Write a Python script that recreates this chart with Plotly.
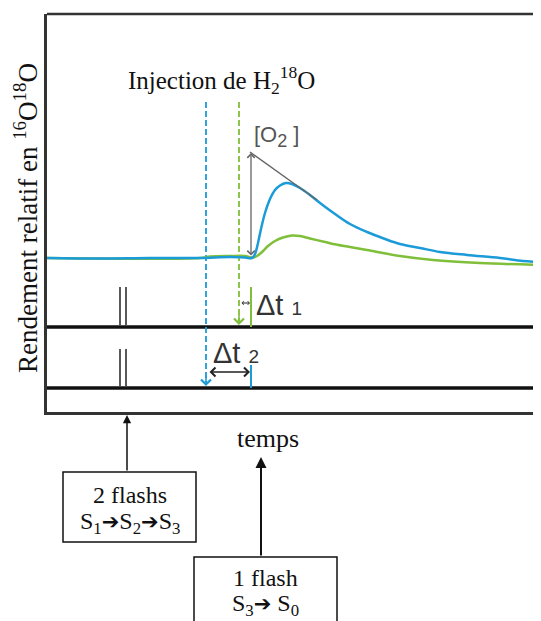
import plotly.graph_objects as go

# ---- data (time in arbitrary units, signal in arbitrary units) ----
blue_t = [0, 53, 103, 153, 168, 183, 198, 205, 208, 211, 214, 218, 223, 228, 233, 239, 245, 253, 263, 273, 288, 303, 320, 338, 353, 373, 393, 420, 453, 476, 494]
blue_y = [154, 153.5, 154, 154, 154.5, 155, 154.5, 154, 158, 169, 183, 199, 213, 222, 226.5, 229, 228, 224, 217, 209, 198, 188, 180, 173, 168, 164, 160, 157, 154, 151, 150]

green_t = [0, 153, 163, 183, 198, 206, 210, 215, 221, 228, 236, 245, 253, 263, 278, 286, 303, 320, 353, 386, 433, 494]
green_y = [154, 154, 155.5, 156, 156, 154.5, 156, 160, 166, 171, 174.5, 176.5, 176, 173.5, 170, 168, 165, 162, 156, 152, 149, 147]

flash2_t = [73, 79]          # two flashes (S1->S2->S3)
flash_t = 204                # single flash (S3->S0)
inj_blue_t = 159             # injection time (blue)
inj_green_t = 192            # injection time (green)
track_y = [85, 24]           # flash-trace baselines
peak_tangent_t = [203, 270]
peak_tangent_y = [260, 212]
o2_arrow_y = [260, 154]

BLUE = "#1b9bd8"
GREEN = "#7fbf3a"
SERIF = "Liberation Serif"
SANS = "Liberation Sans"

fig = go.Figure()

# flash trace baselines
for ty in track_y:
    fig.add_trace(go.Scatter(x=[0, 494], y=[ty, ty], mode="lines",
                             line=dict(color="#111", width=3.5), hoverinfo="skip"))
# flash marks
for ft in flash2_t:
    fig.add_trace(go.Scatter(x=[ft, ft], y=[track_y[0] + 2, track_y[0] + 40], mode="lines",
                             line=dict(color="#222", width=1.5), hoverinfo="skip"))
    fig.add_trace(go.Scatter(x=[ft, ft], y=[track_y[1] + 2, track_y[1] + 39], mode="lines",
                             line=dict(color="#222", width=1.5), hoverinfo="skip"))
# single-flash marks
fig.add_trace(go.Scatter(x=[flash_t, flash_t], y=[track_y[0], track_y[0] + 40], mode="lines",
                         line=dict(color=GREEN, width=2), hoverinfo="skip"))
fig.add_trace(go.Scatter(x=[flash_t, flash_t], y=[track_y[1], track_y[1] + 23], mode="lines",
                         line=dict(color=BLUE, width=2), hoverinfo="skip"))

# injection dashed lines
fig.add_trace(go.Scatter(x=[inj_blue_t, inj_blue_t], y=[310, track_y[1] + 6], mode="lines",
                         line=dict(color=BLUE, width=1.8, dash="6px,3px"), hoverinfo="skip"))
fig.add_trace(go.Scatter(x=[inj_green_t, inj_green_t], y=[310, track_y[0] + 6], mode="lines",
                         line=dict(color=GREEN, width=1.8, dash="6px,3px"), hoverinfo="skip"))

# curves
fig.add_trace(go.Scatter(x=green_t, y=green_y, mode="lines",
                         line=dict(color=GREEN, width=2.5, shape="spline"), hoverinfo="skip"))
fig.add_trace(go.Scatter(x=blue_t, y=blue_y, mode="lines",
                         line=dict(color=BLUE, width=2.5, shape="spline"), hoverinfo="skip"))

# tangent line
fig.add_trace(go.Scatter(x=peak_tangent_t, y=peak_tangent_y, mode="lines",
                         line=dict(color="#666", width=1.4), hoverinfo="skip"))

# figure area starts 8 px right/down of window origin (page body margin)
PLOT_H = 398.0
def py(win_y):
    """paper y for a window pixel row"""
    return (412 - win_y) / PLOT_H

ann = []
# arrowheads for dashed lines
ann.append(dict(x=inj_blue_t, y=track_y[1] + 2, ax=inj_blue_t, ay=track_y[1] + 14, xref="x", yref="y",
                axref="x", ayref="y", showarrow=True, arrowhead=4, arrowsize=1.2, arrowwidth=1.6,
                arrowcolor=BLUE, text=""))
ann.append(dict(x=inj_green_t, y=track_y[0] + 2, ax=inj_green_t, ay=track_y[0] + 14, xref="x", yref="y",
                axref="x", ayref="y", showarrow=True, arrowhead=4, arrowsize=1.2, arrowwidth=1.6,
                arrowcolor=GREEN, text=""))
# [O2] double arrow
ann.append(dict(x=peak_tangent_t[0] + 1, y=o2_arrow_y[0] - 1, ax=peak_tangent_t[0] + 1, ay=o2_arrow_y[1] + 1,
                xref="x", yref="y", axref="x", ayref="y", showarrow=True, arrowhead=4, startarrowhead=4,
                arrowside="end+start", arrowsize=1.1, arrowwidth=1.3, arrowcolor="#666", text=""))
# delta t arrows
ann.append(dict(x=203, y=109, ax=193, ay=109, xref="x", yref="y", axref="x", ayref="y",
                showarrow=True, arrowhead=4, startarrowhead=4, arrowside="end+start",
                arrowsize=0.7, arrowwidth=1, arrowcolor="#222", text=""))
ann.append(dict(x=203, y=40, ax=161, ay=40, xref="x", yref="y", axref="x", ayref="y",
                showarrow=True, arrowhead=4, startarrowhead=4, arrowside="end+start",
                arrowsize=1.1, arrowwidth=1.6, arrowcolor="#222", text=""))

# texts
ann.append(dict(x=207, y=107, xref="x", yref="y", xanchor="left", yanchor="middle", showarrow=False,
                text="Δt <span style='font-size:19px'>1</span>", font=dict(family=SANS, size=29, color="#333")))
ann.append(dict(x=164, y=59, xref="x", yref="y", xanchor="left", yanchor="middle", showarrow=False,
                text="Δt <span style='font-size:19px'>2</span>", font=dict(family=SANS, size=29, color="#333")))
ann.append(dict(x=205, y=276, xref="x", yref="y", xanchor="left", yanchor="middle", showarrow=False,
                text="[O<sub><span style='font-size:18px'>2</span></sub> ]",
                font=dict(family=SANS, size=22, color="#555")))
ann.append(dict(x=174, y=332, xref="x", yref="y", xanchor="center", yanchor="middle", showarrow=False,
                text="Injection de H<sub>2</sub><sup>18</sup>O", font=dict(family=SERIF, size=25, color="#111")))
ann.append(dict(x=-21 / 494, y=py(218), xref="paper", yref="paper", xanchor="center",
                yanchor="middle", textangle=-90, showarrow=False,
                text="Rendement relatif en <sup>16</sup>O<sup>18</sup>O",
                font=dict(family=SERIF, size=27, color="#111")))
ann.append(dict(x=221, y=py(438), xref="x", yref="paper", xanchor="center", yanchor="middle",
                showarrow=False, text="temps", font=dict(family=SERIF, size=26, color="#111")))
# box arrows
ann.append(dict(x=80, y=py(415), xref="x", yref="paper", ax=0, ay=57, showarrow=True,
                arrowhead=2, arrowsize=1.1, arrowwidth=1.5, arrowcolor="#111", text=""))
ann.append(dict(x=214, y=py(457), xref="x", yref="paper", ax=0, ay=100, showarrow=True,
                arrowhead=2, arrowsize=1.1, arrowwidth=2, arrowcolor="#111", text=""))
# box texts
ann.append(dict(x=83, y=py(495), xref="x", yref="paper", xanchor="center", yanchor="middle",
                showarrow=False, text="2 flashs", font=dict(family=SERIF, size=24, color="#111")))
ann.append(dict(x=83, y=py(523), xref="x", yref="paper", xanchor="center", yanchor="middle",
                showarrow=False,
                text="S<sub>1</sub><span style='font-family:DejaVu Sans;font-size:21px'>➔</span>S<sub>2</sub>"
                     "<span style='font-family:DejaVu Sans;font-size:21px'>➔</span>S<sub>3</sub>",
                font=dict(family=SERIF, size=24, color="#111")))
ann.append(dict(x=218, y=py(578), xref="x", yref="paper", xanchor="center", yanchor="middle",
                showarrow=False, text="1 flash", font=dict(family=SERIF, size=24, color="#111")))
ann.append(dict(x=218, y=py(605), xref="x", yref="paper", xanchor="center", yanchor="middle",
                showarrow=False,
                text="S<sub>3</sub><span style='font-family:DejaVu Sans;font-size:21px'>➔</span> S<sub>0</sub>",
                font=dict(family=SERIF, size=24, color="#111")))

shapes = [
    dict(type="line", xref="paper", yref="paper", x0=0, x1=1, y0=1, y1=1, line=dict(color="#333", width=2.5)),
    dict(type="rect", xref="x", yref="paper", x0=16, x1=149, y0=py(472), y1=py(542),
         line=dict(color="#111", width=1.5)),
    dict(type="rect", xref="x", yref="paper", x0=147, x1=290, y0=py(557), y1=py(640),
         line=dict(color="#111", width=1.5)),
]

fig.update_layout(
    width=533, height=613,
    margin=dict(l=39, r=0, t=6, b=209),
    paper_bgcolor="white", plot_bgcolor="white",
    showlegend=False,
    annotations=ann, shapes=shapes,
    xaxis=dict(range=[0, 494], showgrid=False, zeroline=False, showticklabels=False, ticks="",
               showline=True, linecolor="#333", linewidth=2.5, fixedrange=True),
    yaxis=dict(range=[0, 398], showgrid=False, zeroline=False, showticklabels=False, ticks="",
               showline=True, linecolor="#333", linewidth=2.5, fixedrange=True),
)

fig.write_html("out.html")
